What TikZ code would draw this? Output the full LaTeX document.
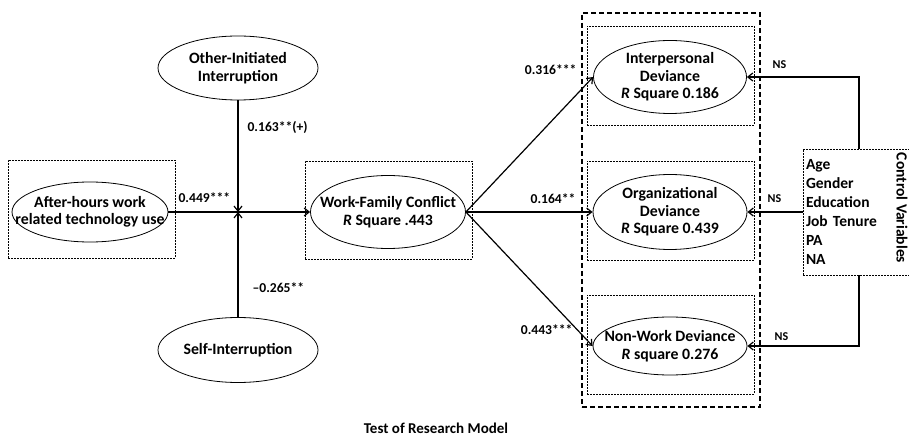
\documentclass[tikz,border=0pt]{standalone}
\usepackage{fontspec}
\setmainfont{Carlito}
\usetikzlibrary{shapes.geometric, arrows.meta}

\tikzset{
  var/.style={ellipse, draw, line width=0.8pt, inner xsep=-20pt, inner ysep=-4pt, align=center, font=\fontsize{15.8}{17.5}\selectfont\bfseries},
  dbox/.style={draw, line width=0.9pt, dash pattern=on 2pt off 1pt},
  lbl/.style={font=\fontsize{13.6}{15}\selectfont\bfseries, inner sep=0pt},
  nslbl/.style={font=\fontsize{12}{14}\selectfont\bfseries, inner sep=0pt}
}

\begin{document}
\begin{tikzpicture}[x=1pt, y=-1pt, line width=1.2pt, >={Straight Barb[length=5pt,width=8pt]}]
\useasboundingbox (0,0) rectangle (909,435);
% boxes
\node (techbox) at (91.5,209.5) [dbox, minimum width=167pt, minimum height=98pt] {};
\node (wfcbox) at (388.5,210) [dbox, minimum width=167pt, minimum height=98pt] {};
\node (devbox) at (671,210) [draw, line width=1.4pt, dash pattern=on 5pt off 3pt, minimum width=178pt, minimum height=394pt] {};
\node (idbox) at (670.5,75.5) [dbox, minimum width=167pt, minimum height=99pt] {};
\node (odbox) at (670.5,210.5) [dbox, minimum width=167pt, minimum height=99pt] {};
\node (nwbox) at (670.5,344.5) [dbox, minimum width=167pt, minimum height=99pt] {};
% variables
\node (tech) at (90,212) [var, minimum width=156pt, minimum height=60pt] {After-hours work\\related technology use};
\node (oii) at (238,68) [var, minimum width=160pt, minimum height=64pt] {Other-Initiated\\Interruption};
\node (si) at (238,350) [var, minimum width=160pt, minimum height=65pt] {Self-Interruption};
\node (wfc) at (388,212) [var, minimum width=155pt, minimum height=73pt] {Work-Family Conflict\\\textit{R} Square .443};
\node (id) at (670,77) [var, minimum width=153pt, minimum height=73pt] {Interpersonal\\Deviance\\\textit{R} Square 0.186};
\node (od) at (670,212) [var, minimum width=154pt, minimum height=75pt] {Organizational\\Deviance\\\textit{R} Square 0.439};
\node (nw) at (670,346) [var, minimum width=154pt, minimum height=58pt] {Non-Work Deviance\\\textit{R} square 0.276};
\node (cv) at (859,212) [dbox, minimum height=126pt, text width=106pt, inner sep=3pt, align=left, font=\fontsize{15.5}{19}\selectfont\bfseries] {Age\\Gender\\Education\\Job Tenure\\PA\\NA};
\node (cvtitle) at (902,208) [rotate=-90, font=\fontsize{15.5}{17}\selectfont\bfseries, inner sep=0pt] {Control Variables};
\coordinate (x) at (oii.south |- tech.east);
% paths
\draw[->] (tech.east) -- (wfc.west);
\draw[->] (oii) -- (x);
\draw[->] (si) -- (x);
\draw[->] (wfc.east) -- (id.west);
\draw[->] (wfc.east) -- (od.west);
\draw[->] (wfc.east) -- (nw.west);
\draw[->] (cv.north) |- (id.east);
\draw[->] (cv.west) -- (od.east);
\draw[->] (cv.south) |- (nw.east);
% coefficients
\node (b1) at (178,198) [lbl, anchor=west] {0.449***};
\node (b2) at (247,127) [lbl, anchor=west] {0.163**(+)};
\node (b3) at (252,288) [lbl, anchor=west] {--0.265**};
\node (b4) at (577,70) [lbl, anchor=east] {0.316***};
\node (b5) at (576,199) [lbl, anchor=east] {0.164**};
\node (b6) at (573,330) [lbl, anchor=east] {0.443***};
\node (ns1) at (772,65) [nslbl, anchor=west] {NS};
\node (ns2) at (767,199) [nslbl, anchor=west] {NS};
\node (ns3) at (774,337) [nslbl, anchor=west] {NS};
\node (title) at (436,433) [anchor=base, font=\fontsize{15}{17}\selectfont\bfseries, inner sep=0pt] {Test of Research Model};
\end{tikzpicture}
\end{document}
